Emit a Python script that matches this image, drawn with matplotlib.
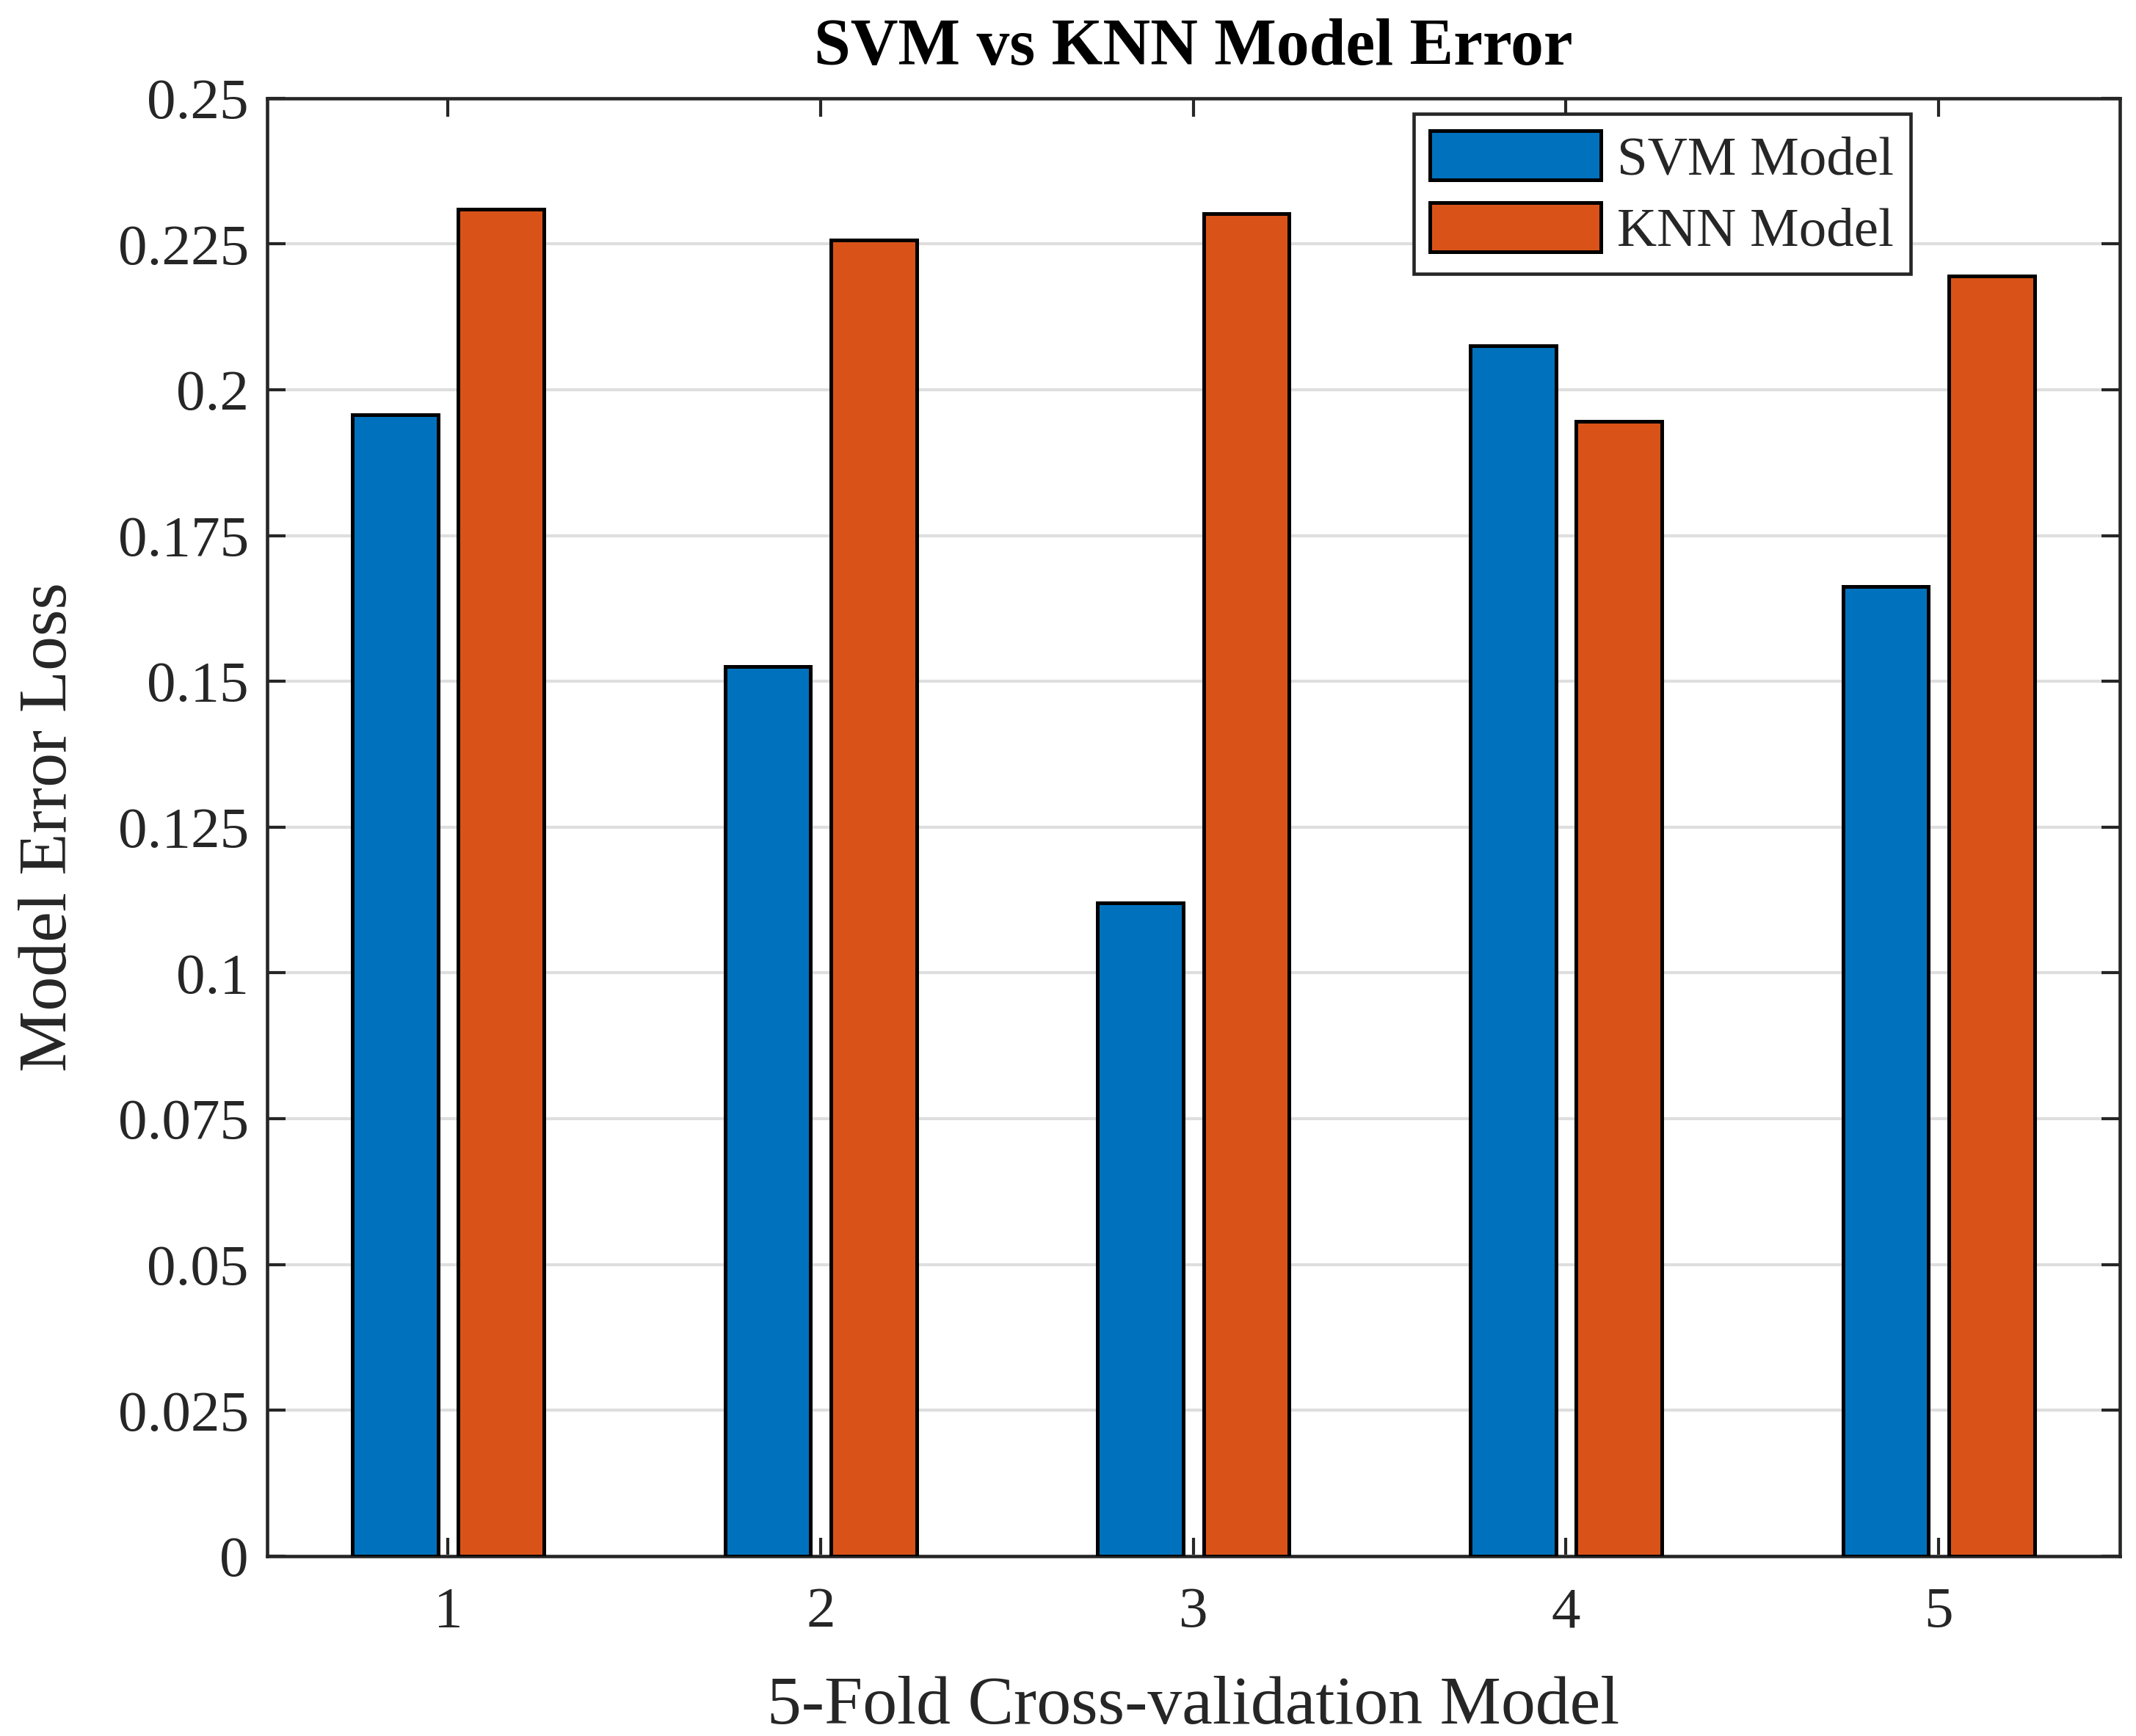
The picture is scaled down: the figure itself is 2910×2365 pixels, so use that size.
import matplotlib
matplotlib.use("Agg")
import matplotlib.pyplot as plt
import numpy as np

folds = [1, 2, 3, 4, 5]
svm_error = [0.1957, 0.1526, 0.1120, 0.2075, 0.1663]
knn_error = [0.2309, 0.2257, 0.2302, 0.1946, 0.2195]
ytick_vals = [0, 0.025, 0.05, 0.075, 0.1, 0.125, 0.15, 0.175, 0.2, 0.225, 0.25]
ytick_labels = ["0", "0.025", "0.05", "0.075", "0.1", "0.125", "0.15", "0.175", "0.2", "0.225", "0.25"]
series_names = ["SVM Model", "KNN Model"]

plt.rcParams['font.family'] = ['Liberation Serif', 'DejaVu Serif']
dark = (0.15, 0.15, 0.15)

fig = plt.figure(figsize=(9.7, 2365/300), dpi=300)
ax = fig.add_axes([0.125, 0.1036, 0.8674, 0.8399])

x = np.array(folds, dtype=float)
w = 0.23
ax.bar(x - 0.142, svm_error, width=w, color='#0072BD', edgecolor='black', linewidth=1.2, label=series_names[0], zorder=3)
ax.bar(x + 0.142, knn_error, width=w, color='#D95319', edgecolor='black', linewidth=1.2, label=series_names[1], zorder=3)

ax.set_xlim(0.514, 5.486)
ax.set_ylim(0, 0.25)
ax.set_xticks(folds)
ax.set_xticklabels([str(f) for f in folds])
ax.set_yticks(ytick_vals)
ax.set_yticklabels(ytick_labels)
ax.yaxis.grid(True, color=(0.87, 0.87, 0.87), linewidth=1.0, zorder=0)
ax.set_axisbelow(True)

ax.tick_params(axis='both', direction='in', length=6, width=1.0, color=dark,
               labelcolor=dark, labelsize=19, top=True, right=True)
ax.tick_params(axis='x', pad=10)
ax.tick_params(axis='y', pad=6)
for s in ax.spines.values():
    s.set_linewidth(1.1)
    s.set_color(dark)

ax.set_xlabel("5-Fold Cross-validation Model", fontsize=22.5, color=dark, labelpad=12)
ax.set_ylabel("Model Error Loss", fontsize=22.5, color=dark, labelpad=12)
ax.set_title("SVM vs KNN Model Error", fontsize=21.5, fontweight='bold', color='black', pad=11)

leg = ax.legend(loc='upper right', bbox_to_anchor=(0.887, 0.989), fontsize=18,
                handlelength=3.1, handleheight=1.0, fancybox=False, framealpha=1,
                borderpad=0.3, labelspacing=0.3, handletextpad=0.3, borderaxespad=0)
leg.get_frame().set_edgecolor(dark)
leg.get_frame().set_linewidth(1.1)
for t in leg.get_texts():
    t.set_color(dark)

fig.savefig("out.png", dpi=300)
